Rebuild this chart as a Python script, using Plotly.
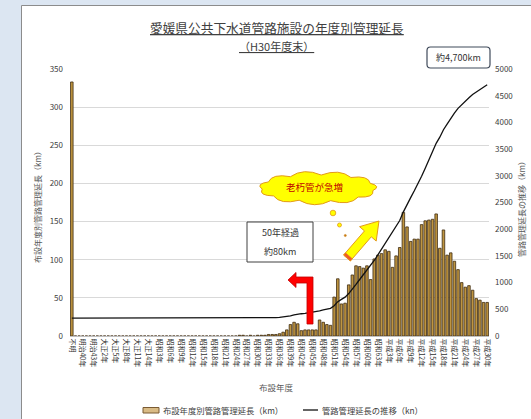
import numpy as np
import plotly.graph_objects as go

# ---------------- data ----------------
unknown_label = "不明"
unknown_km = 333

meiji_years = [38, 39, 40, 41, 42, 43, 44, 45]
taisho_years = list(range(2, 16))
showa_years = list(range(2, 64))
heisei_years = list(range(1, 31))

meiji_km = [0, 0, 0, 0, 0, 0, 0, 0]
taisho_km = [0, 0, 0, 0, 0, 0, 0, 0, 0, 0, 0, 0, 0, 0]
showa_km = [0, 0, 0, 0, 0, 0, 0, 0, 0, 0, 0, 0, 0, 0, 0, 0, 0, 0, 0, 0, 0, 0, 0,
            1, 1, 0, 1, 0, 1, 1, 1, 2, 2, 2, 3,
            5, 8, 15, 18, 16, 7, 8, 8, 8, 8, 21, 18, 15, 14, 51, 75, 42, 43, 67, 80,
            92, 91, 89, 92, 74, 101, 106]
heisei_km = [108, 113, 111, 90, 105, 116, 162, 143, 124, 127,
             127, 146, 151, 152, 153, 160, 115, 139, 106, 109,
             98, 87, 70, 64, 66, 60, 49, 47, 44, 44]

categories = ([unknown_label]
              + [f"明治{n}年" for n in meiji_years]
              + [f"大正{n}年" for n in taisho_years]
              + [f"昭和{n}年" for n in showa_years]
              + [("平成元年" if n == 1 else f"平成{n}年") for n in heisei_years])
yearly_km = [unknown_km] + meiji_km + taisho_km + showa_km + heisei_km
cumulative_km = np.cumsum(yearly_km)
tick_labels = categories[::3]

bar_name = "布設年度別管路管理延長（km）"
line_name = "管路管理延長の推移（kn）"

# ---------------- geometry helpers ----------------
W, H = 531, 419
L, R, T, B = 70, 489, 69, 336
FONT = "Noto Sans CJK JP"


def P(x, y):
    return (x - L) / (R - L), (B - y) / (B - T)


def fmt(pt):
    a, b = P(*pt)
    return f"{a:.5f},{b:.5f}"


def poly(points):
    return "M" + " L".join(fmt(p) for p in points) + " Z"


def rounded_rect(x0, y0, x1, y1, r):
    return ("M" + fmt((x0 + r, y0)) + " L" + fmt((x1 - r, y0)) + " Q" + fmt((x1, y0)) + " " + fmt((x1, y0 + r))
            + " L" + fmt((x1, y1 - r)) + " Q" + fmt((x1, y1)) + " " + fmt((x1 - r, y1))
            + " L" + fmt((x0 + r, y1)) + " Q" + fmt((x0, y1)) + " " + fmt((x0, y1 - r))
            + " L" + fmt((x0, y0 + r)) + " Q" + fmt((x0, y0)) + " " + fmt((x0 + r, y0)) + " Z")


def cloud(cx, cy, rx, ry, n=11, off=8):
    ang = np.linspace(0, 2 * np.pi, n + 1) + 0.2
    pts = [(cx + rx * np.cos(a), cy + ry * np.sin(a)) for a in ang]
    d = "M" + fmt(pts[0])
    for i in range(n):
        am = (ang[i] + ang[i + 1]) / 2
        c = (cx + (rx + off) * np.cos(am), cy + (ry + off) * np.sin(am))
        d += " Q" + fmt(c) + " " + fmt(pts[i + 1])
    return d + " Z"


def circle(cx, cy, r, fill, line, lw=0.8):
    x0, y0 = P(cx - r, cy + r)
    x1, y1 = P(cx + r, cy - r)
    return dict(type="circle", xref="paper", yref="paper", x0=x0, y0=y0, x1=x1, y1=y1,
                fillcolor=fill, line=dict(color=line, width=lw), layer="above")


def text(x, y, s, size, color="#404040", angle=0, xanchor="center"):
    a, b = P(x, y)
    return dict(x=a, y=b, xref="paper", yref="paper", text=s, showarrow=False, textangle=angle,
                xanchor=xanchor, yanchor="middle", font=dict(family=FONT, size=size, color=color))


# ---------------- figure ----------------
fig = go.Figure()
fig.add_trace(go.Bar(x=categories, y=yearly_km, name=bar_name,
                     marker=dict(color="#bf9540", line=dict(color="#3f2c12", width=0.8))))
fig.add_trace(go.Scatter(x=categories, y=cumulative_km, name=line_name, yaxis="y2", mode="lines",
                         line=dict(color="#111111", width=1.3)))

shapes = []
# page frame
x0, y0 = P(21.5, 5.5)
x1, y1 = P(640, 520)
shapes.append(dict(type="rect", xref="paper", yref="paper", x0=x0, y0=y0, x1=x1, y1=y1,
                   fillcolor="white", line=dict(color="#8c8c8c", width=1), layer="below"))

# 約4,700km box
shapes.append(dict(type="path", xref="paper", yref="paper", path=rounded_rect(427, 47, 490, 68, 3.5),
                   fillcolor="white", line=dict(color="#3f4a5a", width=1.2), layer="above"))
# 50年経過 box
x0, y0 = P(247, 262)
x1, y1 = P(313, 222)
shapes.append(dict(type="rect", xref="paper", yref="paper", x0=x0, y0=y0, x1=x1, y1=y1,
                   fillcolor="white", line=dict(color="#404040", width=1), layer="above"))

# red L arrow
red_pts = [(313, 277), (313, 324), (307, 324), (307, 283), (296, 283), (296, 287.5), (288, 280),
           (296, 272.5), (296, 277)]
shapes.append(dict(type="path", xref="paper", yref="paper", path=poly(red_pts),
                   fillcolor="#ff0000", line=dict(color="#c00000", width=0.8), layer="above"))

# yellow arrow
Tt = np.array([347.0, 258.0])
Pp = np.array([379.0, 221.0])
u = (Pp - Tt) / np.linalg.norm(Pp - Tt)
nrm = np.array([-u[1], u[0]])
neck = Pp - u * 17
yel_pts = [Tt + nrm * 4.5, neck + nrm * 4.5, neck + nrm * 11, Pp, neck - nrm * 11, neck - nrm * 4.5,
           Tt - nrm * 4.5]
shapes.append(dict(type="path", xref="paper", yref="paper", path=poly([tuple(p) for p in yel_pts]),
                   fillcolor="#ffff00", line=dict(color="#e39a1a", width=1), layer="above"))
band = [Tt + nrm * 4.5, Tt + nrm * 4.5 + u * 3, Tt - nrm * 4.5 + u * 3, Tt - nrm * 4.5]
shapes.append(dict(type="path", xref="paper", yref="paper", path=poly([tuple(p) for p in band]),
                   fillcolor="#f05a28", line=dict(color="#e39a1a", width=0.6), layer="above"))

# cloud + bubbles
shapes.append(dict(type="path", xref="paper", yref="paper", path=cloud(318, 188, 56, 13),
                   fillcolor="#ffff00", line=dict(color="#e39a1a", width=1), layer="above"))
shapes.append(circle(333, 213, 2.8, "#ffff00", "#e39a1a"))
shapes.append(circle(339.5, 225, 2.0, "#ffff00", "#e39a1a"))
shapes.append(circle(345.3, 235.5, 1.1, "#c87a10", "#c87a10", 0.5))

# manual legend
x0, y0 = P(143, 413)
x1, y1 = P(159, 407.5)
shapes.append(dict(type="rect", xref="paper", yref="paper", x0=x0, y0=y0, x1=x1, y1=y1,
                   fillcolor="#d9bb85", line=dict(color="#7a5a32", width=1)))
x0, y0 = P(303, 410)
x1, y1 = P(318, 410)
shapes.append(dict(type="line", xref="paper", yref="paper", x0=x0, y0=y0, x1=x1, y1=y1,
                   line=dict(color="#111111", width=1.3)))

annotations = [
    text(277, 27, "<u>愛媛県公共下水道管路施設の年度別管理延長</u>", 12.7),
    text(276, 46, "<u>（H30年度末）</u>", 11),
    text(458.5, 57.5, "約4,700km", 9, "#333333"),
    text(280, 233, "50年経過", 9, "#333333"),
    text(280, 251, "約80km", 9, "#333333"),
    text(314, 187, "老朽管が急増", 9.5, "#c00000"),
    text(37, 205, "布設年度別管路管理延長（km）", 8, "#595959", -90),
    text(522, 207, "管路管理延長の推移（km）", 8, "#595959", -90),
    text(276, 387, "布設年度", 8.5, "#595959"),
    text(161, 410, bar_name, 8.3, "#404040", xanchor="left"),
    text(320, 410, line_name, 8.3, "#404040", xanchor="left"),
]

fig.update_layout(
    width=W, height=H, autosize=False,
    margin=dict(l=L, r=W - R, t=T, b=H - B, pad=0),
    paper_bgcolor="#dce6f2", plot_bgcolor="white",
    showlegend=False, bargap=0.3,
    font=dict(family=FONT, color="#404040"),
    xaxis=dict(type="category", categoryorder="array", categoryarray=categories,
               tickmode="array", tickvals=tick_labels, ticktext=tick_labels,
               tickangle=90, tickfont=dict(size=7, color="#333333"),
               showgrid=False, showline=True, linecolor="#bfbfbf", linewidth=1,
               ticks="", range=[-0.5, len(categories) - 0.5]),
    yaxis=dict(range=[0, 350], dtick=50, showgrid=True, gridcolor="#d9d9d9", gridwidth=1,
               zeroline=False, showline=False, ticks="", ticklabelstandoff=6,
               tickfont=dict(size=8, color="#404040")),
    yaxis2=dict(range=[0, 5000], dtick=500, overlaying="y", side="right", showgrid=False,
                zeroline=False, showline=False, ticks="", ticklabelstandoff=5,
                tickfont=dict(size=8, color="#404040")),
    shapes=shapes, annotations=annotations,
)

fig.write_html("out.html", config={"displayModeBar": False, "staticPlot": True},
               post_script="document.body.style.margin='0';document.body.style.padding='0';"
                           "document.body.style.overflow='hidden';")
